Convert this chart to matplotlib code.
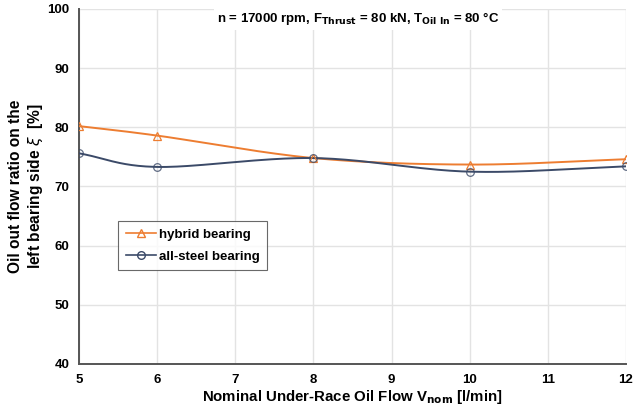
import numpy as np
import matplotlib
matplotlib.use("Agg")
import matplotlib.pyplot as plt
from matplotlib.lines import Line2D

plt.rcParams['font.family'] = ['Liberation Sans', 'DejaVu Sans']

flow = [5, 6, 8, 10, 12]
hybrid = [80.2, 78.6, 74.8, 73.7, 74.6]
steel = [75.6, 73.3, 74.8, 72.5, 73.4]
series_names = ["hybrid bearing", "all-steel bearing"]
xticks = [5, 6, 7, 8, 9, 10, 11, 12]
yticks = [40, 50, 60, 70, 80, 90, 100]

ORANGE = "#ED7D31"
NAVY = "#3B4A68"


def smooth(x, y, n=40):
    # Catmull-Rom style smoothing similar to spreadsheet "smoothed line"
    x = np.asarray(x, float); y = np.asarray(y, float)
    px = np.concatenate([[2 * x[0] - x[1]], x, [2 * x[-1] - x[-2]]])
    py = np.concatenate([[2 * y[0] - y[1]], y, [2 * y[-1] - y[-2]]])
    xs, ys = [], []
    for i in range(1, len(px) - 2):
        p0, p1, p2, p3 = (np.array([px[j], py[j]]) for j in (i - 1, i, i + 1, i + 2))
        t = np.linspace(0, 1, n)[:, None]
        c1 = p1 + (p2 - p0) / 6
        c2 = p2 - (p3 - p1) / 6
        pts = ((1 - t) ** 3) * p1 + 3 * ((1 - t) ** 2) * t * c1 + 3 * (1 - t) * t ** 2 * c2 + t ** 3 * p2
        xs.extend(pts[:, 0]); ys.extend(pts[:, 1])
    return np.array(xs), np.array(ys)


fig = plt.figure(figsize=(6.44, 4.08), dpi=100)
ax = fig.add_axes([0.1227, 0.108, 0.8493, 0.870])

for vals, color, marker in ((hybrid, ORANGE, "^"), (steel, NAVY, "o")):
    sx, sy = smooth(flow, vals)
    ax.plot(sx, sy, color=color, lw=1.4, zorder=3)
    ax.plot(flow, vals, ls="none", marker=marker, ms=5.5, mfc="none",
            mec=color, mew=0.9, zorder=4, alpha=0.8 if marker == "o" else 1)

ax.set_xlim(5, 12)
ax.set_ylim(40, 100)
ax.set_xticks(xticks)
ax.set_yticks(yticks)
ax.grid(True, color="#E3E3E3", lw=1.0)
ax.set_axisbelow(True)
for s in ("top", "right"):
    ax.spines[s].set_visible(False)
for s in ("left", "bottom"):
    ax.spines[s].set_color("#555555")
    ax.spines[s].set_linewidth(1.4)
ax.tick_params(length=0, labelsize=9.5, pad=7)
for lab in ax.get_xticklabels() + ax.get_yticklabels():
    lab.set_fontweight("bold")

ax.set_xlabel(r"Nominal Under-Race Oil Flow V$_{\mathbf{nom}}$ [l/min]",
              fontsize=10.8, fontweight="bold", labelpad=2)
ax.set_ylabel("Oil out flow ratio on the\nleft bearing side $\\xi$  [%]",
              fontsize=11.2, fontweight="bold", labelpad=1.5, linespacing=1.25)

ax.text(0.51, 0.997,
        r"n = 17000 rpm, F$_{\mathbf{Thrust}}$ = 80 kN, T$_{\mathbf{Oil\ In}}$ = 80 °C",
        transform=ax.transAxes, ha="center", va="top", fontsize=9.5, fontweight="bold",
        bbox=dict(facecolor="white", edgecolor="none", pad=2), zorder=5)

handles = [Line2D([], [], color=ORANGE, marker="^", mfc="none", mec=ORANGE, ms=5.5, lw=1.2),
           Line2D([], [], color=NAVY, marker="o", mfc="none", mec=NAVY, ms=5.5, lw=1.2)]
leg = ax.legend(handles, series_names, loc="upper left", bbox_to_anchor=(0.072, 0.402),
                frameon=True, fancybox=False, edgecolor="#444444",
                prop=dict(weight="bold", size=9.5), handlelength=2.3, handletextpad=0.2,
                borderpad=0.55, labelspacing=0.75, borderaxespad=0)
leg.get_frame().set_linewidth(0.8)
leg.set_zorder(6)

fig.savefig("out.png", dpi=100)
